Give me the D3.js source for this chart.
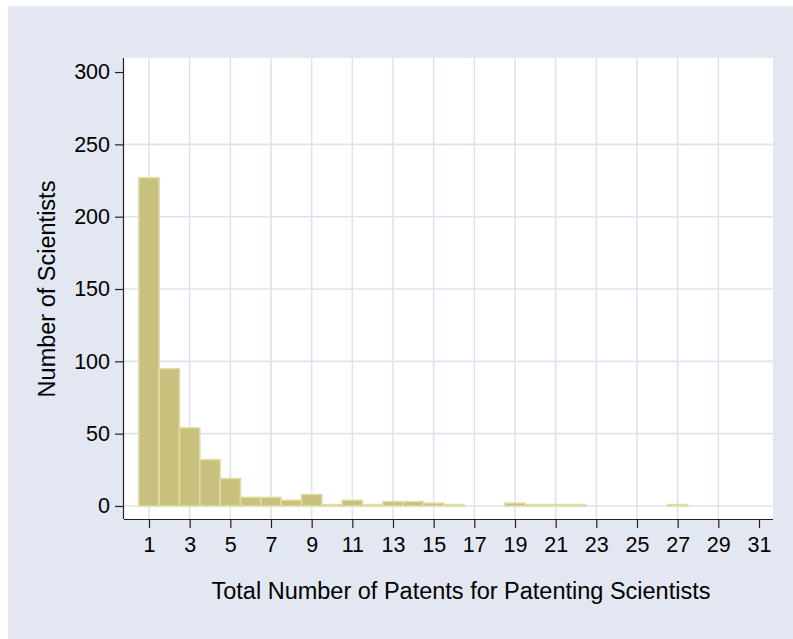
<!DOCTYPE html>
<html>
<head>
<meta charset="utf-8">
<script src="https://cdn.jsdelivr.net/npm/d3@7"></script>
<style>
  html, body { margin: 0; padding: 0; background: #ffffff; }
  svg { display: block; font-family: "Liberation Sans", Arial, sans-serif; }
</style>
</head>
<body>
<svg id="chart" width="793" height="639"></svg>
<script>
// ---- data ----
const patents = [1,2,3,4,5,6,7,8,9,10,11,12,13,14,15,16,17,18,19,20,21,22,23,24,25,26,27];
const scientists = [227,95,54,32,19,6,6,4,8,1,4,1,3,3,2,1,0,0,2,1,1,1,0,0,0,0,1];
const xTicks = [1,3,5,7,9,11,13,15,17,19,21,23,25,27,29,31];
const yTicks = [0,50,100,150,200,250,300];
const xTitle = "Total Number of Patents for Patenting Scientists";
const yTitle = "Number of Scientists";

// ---- layout ----
const W = 793, H = 639;
const plot = { left: 124, right: 773, top: 58, bottom: 519 };
const tickFont = 21.5, titleFont = 23.5;

const svg = d3.select("#chart");

svg.append("rect")
  .attr("x", 8).attr("y", 6)
  .attr("width", W - 8).attr("height", H - 6)
  .attr("fill", "#e2e7f1");

svg.append("rect")
  .attr("x", plot.left).attr("y", plot.top)
  .attr("width", plot.right - plot.left).attr("height", plot.bottom - plot.top)
  .attr("fill", "#ffffff");

const x = d3.scaleLinear().domain([-0.2295, 31.689]).range([plot.left, plot.right]);
const y = d3.scaleLinear().domain([-9, 309.7]).range([plot.bottom, plot.top]);

// grid lines (no grid at the axis extremes)
const gridColor = "#dde3f0";
svg.append("g").selectAll("line")
  .data(yTicks.filter(d => d !== 300))
  .join("line")
  .attr("x1", plot.left).attr("x2", plot.right)
  .attr("y1", d => y(d)).attr("y2", d => y(d))
  .attr("stroke", gridColor).attr("stroke-width", 1.6);

svg.append("g").selectAll("line")
  .data(xTicks.filter(d => d !== 31))
  .join("line")
  .attr("x1", d => x(d)).attr("x2", d => x(d))
  .attr("y1", plot.top).attr("y2", plot.bottom)
  .attr("stroke", gridColor).attr("stroke-width", 1.6);

// bars
const bins = patents.map((p, i) => ({ p, n: scientists[i] })).filter(d => d.n > 0);
svg.append("g").selectAll("rect")
  .data(bins)
  .join("rect")
  .attr("x", d => x(d.p - 0.5))
  .attr("width", d => x(d.p + 0.5) - x(d.p - 0.5))
  .attr("y", d => y(d.n))
  .attr("height", d => y(0) - y(d.n))
  .attr("fill", "#c8c17d")
  .attr("stroke", "#e1dca6")
  .attr("stroke-width", 1.5);

// axes
const xAxis = d3.axisBottom(x).tickValues(xTicks).tickSize(9).tickPadding(9).tickFormat(d3.format("d"));
const gx = svg.append("g").attr("transform", `translate(0,${plot.bottom})`).call(xAxis);
gx.select(".domain").attr("d", `M${plot.left},0.5H${plot.right}`).attr("stroke", "#222").attr("stroke-width", 1.2);
gx.selectAll(".tick line").attr("stroke", "#222").attr("stroke-width", 1.2);
gx.selectAll(".tick text").attr("font-size", tickFont).attr("fill", "#000")
  .attr("font-family", "'Liberation Sans', Arial, sans-serif");

const yAxis = d3.axisLeft(y).tickValues(yTicks).tickSize(9).tickPadding(5).tickFormat(d3.format("d"));
const gy = svg.append("g").attr("transform", `translate(${plot.left},0)`).call(yAxis);
gy.select(".domain").attr("d", `M-0.5,${plot.top}V${plot.bottom}`).attr("stroke", "#222").attr("stroke-width", 1.2);
gy.selectAll(".tick line").attr("stroke", "#222").attr("stroke-width", 1.2);
gy.selectAll(".tick text").attr("font-size", tickFont).attr("fill", "#000")
  .attr("font-family", "'Liberation Sans', Arial, sans-serif");

// titles
svg.append("text")
  .attr("x", 461).attr("y", 599)
  .attr("text-anchor", "middle")
  .attr("font-size", titleFont).attr("fill", "#000")
  .text(xTitle);

svg.append("text")
  .attr("transform", `translate(55,289) rotate(-90)`)
  .attr("text-anchor", "middle")
  .attr("font-size", titleFont).attr("fill", "#000")
  .text(yTitle);
</script>
</body>
</html>
